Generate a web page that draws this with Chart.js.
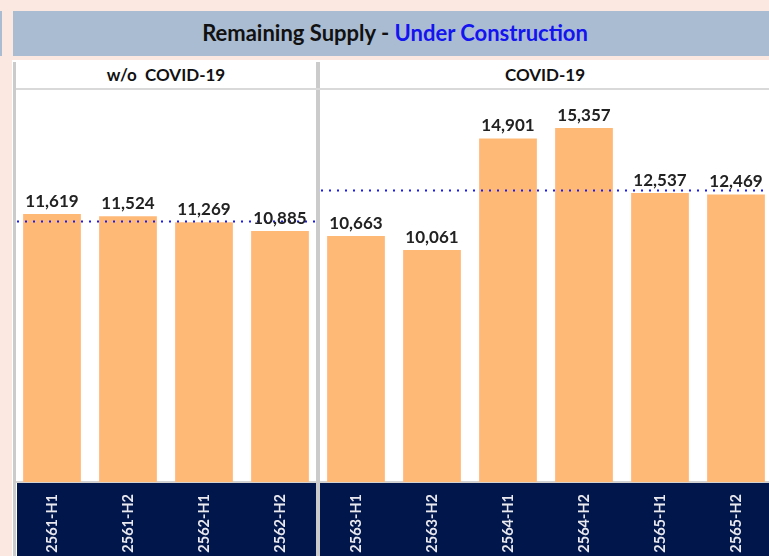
<!DOCTYPE html>
<html>
<head>
<meta charset="utf-8">
<script src="https://cdn.jsdelivr.net/npm/chart.js@4/dist/chart.umd.min.js"></script>
<style>
  html, body { margin: 0; padding: 0; }
  body { width: 769px; height: 556px; overflow: hidden; position: relative; background: #fbe8e0; font-family: Lato, "Open Sans", sans-serif; }
  .abs { position: absolute; }
  #strip { left: 0; top: 11px; width: 2px; height: 45px; background: #a9bcd2; }
  #title { left: 13px; top: 11px; width: 764px; height: 45px; background: #a9bcd2; text-align: center; line-height: 44px; font-weight: 700; font-size: 22px; color: #111; white-space: nowrap; }
  #title span { color: #1414f0; }
  #panel { left: 12px; top: 60px; width: 770px; height: 496px; background: #ffffff; }
  #leftBorder { left: 13px; top: 62px; width: 3px; height: 494px; background: #cbcbcb; z-index: 3; }
  #hdrLine { left: 16px; top: 88px; width: 760px; height: 2px; background: #d9d9d9; }
  #hdrDiv { left: 316px; top: 62px; width: 4px; height: 28px; background: #cbcbcb; }
  .hdr { top: 60px; height: 28px; line-height: 29px; text-align: center; font-weight: 700; font-size: 17px; color: #111; white-space: nowrap; }
  #hdr1 { left: 16px; width: 300px; }
  #hdr2 { left: 320px; width: 450px; }
  #wrap { left: 14px; top: 90px; width: 760px; height: 466px; z-index: 2; }
</style>
</head>
<body>
<div id="strip" class="abs"></div>
<div id="title" class="abs">Remaining Supply - <span>Under Construction</span></div>
<div id="panel" class="abs"></div>
<div id="hdr1" class="abs hdr">w/o&nbsp; COVID-19</div>
<div id="hdr2" class="abs hdr">COVID-19</div>
<div id="hdrDiv" class="abs"></div>
<div id="hdrLine" class="abs"></div>
<div id="leftBorder" class="abs"></div>
<div id="wrap" class="abs"><canvas id="c" width="760" height="466"></canvas></div>
<script>
// Half-year periods, split into the two scenario panes
const periodsNoCovid = ['2561-H1', '2561-H2', '2562-H1', '2562-H2'];
const periodsCovid = ['2563-H1', '2563-H2', '2564-H1', '2564-H2', '2565-H1', '2565-H2'];

// Remaining supply (units) under construction
const supplyNoCovid = [11619, 11524, 11269, 10885];
const supplyCovid = [10663, 10061, 14901, 15357, 12537, 12469];

const labels = periodsNoCovid.concat(periodsCovid);
const values = supplyNoCovid.concat(supplyCovid);

const mean = arr => arr.reduce((a, b) => a + b, 0) / arr.length;
const panes = [
  { from: 0, to: periodsNoCovid.length - 1, avg: mean(supplyNoCovid) },
  { from: periodsNoCovid.length, to: labels.length - 1, avg: mean(supplyCovid) }
];

const fmt = v => v.toLocaleString('en-US');

// Navy band behind the period labels, pane divider and separator line
const framePlugin = {
  id: 'frame',
  beforeDraw(chart) {
    const { ctx, chartArea, scales } = chart;
    const x = scales.x;
    ctx.save();
    ctx.fillStyle = '#01164a';
    ctx.fillRect(3, chartArea.bottom + 1, chart.width, chart.height - chartArea.bottom);
    ctx.fillStyle = '#d2d2d2';
    ctx.fillRect(0, chartArea.bottom - 1, chart.width, 2);
    const step = x.getPixelForValue(1) - x.getPixelForValue(0);
    const divX = x.getPixelForValue(periodsNoCovid.length - 1) + step / 2;
    ctx.fillStyle = '#cbcbcb';
    ctx.fillRect(divX - 2, 0, 4, chart.height);
    ctx.restore();
  },
  afterDatasetsDraw(chart) {
    const { ctx, scales } = chart;
    const x = scales.x, y = scales.y;
    const step = x.getPixelForValue(1) - x.getPixelForValue(0);
    // dotted average line per pane
    ctx.save();
    ctx.strokeStyle = '#1a1aee';
    ctx.lineWidth = 2;
    ctx.setLineDash([2, 6]);
    panes.forEach(p => {
      const x0 = x.getPixelForValue(p.from) - step / 2 + 3;
      const x1 = x.getPixelForValue(p.to) + step / 2 - 3;
      const yy = Math.round(y.getPixelForValue(p.avg)) + 0.5;
      ctx.beginPath();
      ctx.moveTo(x0, yy);
      ctx.lineTo(x1, yy);
      ctx.stroke();
    });
    ctx.restore();
    // value labels
    ctx.save();
    ctx.font = '700 17px Lato, "Open Sans", sans-serif';
    ctx.fillStyle = '#222222';
    ctx.textAlign = 'center';
    ctx.textBaseline = 'alphabetic';
    chart.getDatasetMeta(0).data.forEach((bar, i) => {
      ctx.fillText(fmt(values[i]), bar.x, bar.y - 7);
    });
    ctx.restore();
  }
};

new Chart(document.getElementById('c'), {
  type: 'bar',
  data: {
    labels: labels,
    datasets: [{
      data: values,
      backgroundColor: '#ffb977',
      borderWidth: 0,
      categoryPercentage: 1,
      barPercentage: 0.76
    }]
  },
  options: {
    responsive: false,
    animation: false,
    layout: { padding: 0 },
    plugins: { legend: { display: false }, tooltip: { enabled: false } },
    scales: {
      x: {
        grid: { display: false },
        border: { display: false },
        ticks: {
          minRotation: 90,
          maxRotation: 90,
          padding: 4,
          color: '#e8e8ee',
          font: { family: 'Lato, "Open Sans", sans-serif', size: 14.5, weight: '700' }
        },
        afterFit(scale) { scale.height = 74; }
      },
      y: {
        display: false,
        min: 0,
        max: 17000
      }
    }
  },
  plugins: [framePlugin]
});
</script>
</body>
</html>
